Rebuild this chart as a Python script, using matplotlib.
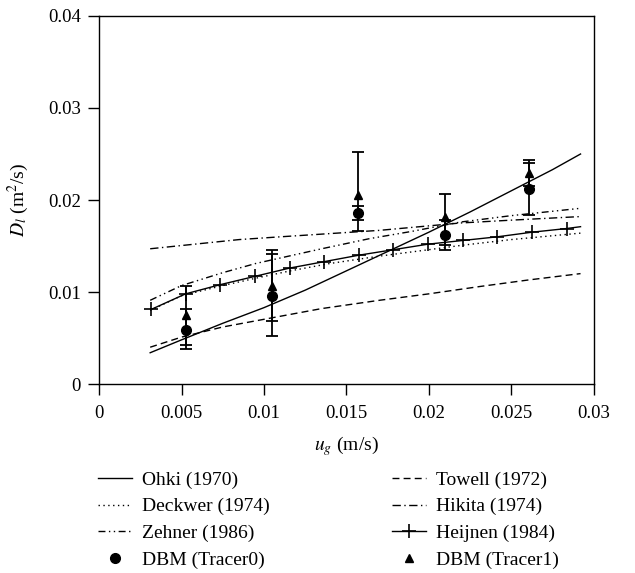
import numpy as np
import matplotlib
matplotlib.use("Agg")
import matplotlib.pyplot as plt

plt.rcParams['font.family'] = ['Liberation Serif', 'DejaVu Serif']
plt.rcParams['mathtext.fontset'] = 'stix'

# correlazioni dalla letteratura (velocita' del gas ug, dispersione Dl)
ug_ohki = [0.0031, 0.005, 0.0075, 0.01, 0.0125, 0.015, 0.0175, 0.02, 0.0225, 0.025, 0.0275, 0.0292]
dl_ohki = [0.0034, 0.0048, 0.0066, 0.0083, 0.0102, 0.0123, 0.0144, 0.0165, 0.0187, 0.0210, 0.0233, 0.0250]

ug_towell = [0.0031, 0.005, 0.0075, 0.0105, 0.0135, 0.017, 0.02, 0.0231, 0.026, 0.0292]
dl_towell = [0.0040, 0.0051, 0.0062, 0.0072, 0.0082, 0.0091, 0.0098, 0.0106, 0.0113, 0.0120]

ug_deckwer = [0.0031, 0.005, 0.0075, 0.0095, 0.0116, 0.014, 0.017, 0.02, 0.0221, 0.025, 0.0292]
dl_deckwer = [0.0080, 0.0096, 0.0107, 0.0115, 0.0123, 0.0131, 0.0139, 0.0146, 0.0151, 0.0157, 0.0164]

ug_hikita = [0.0031, 0.0085, 0.011, 0.017, 0.0219, 0.0249, 0.0292]
dl_hikita = [0.0147, 0.0157, 0.0160, 0.0167, 0.0175, 0.0178, 0.0182]

ug_zehner = [0.0031, 0.005, 0.0075, 0.0095, 0.011, 0.0135, 0.0164, 0.019, 0.0219, 0.025, 0.0292]
dl_zehner = [0.0091, 0.0107, 0.0121, 0.0131, 0.0137, 0.0147, 0.0158, 0.0166, 0.0176, 0.0183, 0.0191]

ug_heijnen = [0.00315, 0.00525, 0.00735, 0.00945, 0.01155, 0.01365, 0.01575, 0.01785,
              0.01995, 0.02205, 0.02415, 0.02625, 0.02835, 0.0292]
dl_heijnen = [0.0081, 0.0098, 0.0108, 0.0117, 0.0126, 0.0133, 0.0140, 0.0146,
              0.0152, 0.0156, 0.0160, 0.0165, 0.0169, 0.0171]

# risultati DBM con i due traccianti
ug_dbm = [0.00525, 0.0105, 0.0157, 0.0210, 0.0261]
dl_tracer0 = [0.0059, 0.0096, 0.0186, 0.0162, 0.0212]
min_tracer0 = [0.0038, 0.0052, 0.0178, 0.0146, 0.0184]
max_tracer0 = [0.0081, 0.0141, 0.0194, 0.0178, 0.0240]
dl_tracer1 = [0.0075, 0.0106, 0.0205, 0.0181, 0.0229]
min_tracer1 = [0.0042, 0.0068, 0.0166, 0.0151, 0.0215]
max_tracer1 = [0.0107, 0.0146, 0.0252, 0.0207, 0.0244]

xticks = [0, 0.005, 0.01, 0.015, 0.02, 0.025, 0.03]
xtick_labels = ['0', '0.005', '0.01', '0.015', '0.02', '0.025', '0.03']
yticks = [0, 0.01, 0.02, 0.03, 0.04]
ytick_labels = ['0', '0.01', '0.02', '0.03', '0.04']


def barre_errore(val, vmin, vmax):
    val = np.array(val)
    return np.vstack([val - np.array(vmin), np.array(vmax) - val])


fig = plt.figure(figsize=(6.35, 5.73), dpi=100)
ax = fig.add_axes([0.156, 0.3298, 0.779, 0.6423])

lw = 1.0
h_ohki, = ax.plot(ug_ohki, dl_ohki, color='black', lw=lw, label='Ohki (1970)')
h_towell, = ax.plot(ug_towell, dl_towell, color='black', lw=lw, linestyle=(0, (5, 3)), label='Towell (1972)')
h_deckwer, = ax.plot(ug_deckwer, dl_deckwer, color='black', lw=lw, linestyle=(0, (1, 2.5)), label='Deckwer (1974)')
h_hikita, = ax.plot(ug_hikita, dl_hikita, color='black', lw=lw, linestyle=(0, (6, 2.5, 1, 2.5)), label='Hikita (1974)')
h_zehner, = ax.plot(ug_zehner, dl_zehner, color='black', lw=lw, linestyle=(0, (5, 2.5, 1, 2.5, 1, 2.5)), label='Zehner (1986)')
h_heijnen, = ax.plot(ug_heijnen, dl_heijnen, color='black', lw=lw, marker='+', markersize=10,
                     markeredgewidth=1.2, markevery=list(range(13)), label='Heijnen (1984)')

ax.errorbar(ug_dbm, dl_tracer1, yerr=barre_errore(dl_tracer1, min_tracer1, max_tracer1),
            fmt='none', ecolor='black', elinewidth=1.3, capsize=4, capthick=1.3)
ax.errorbar(ug_dbm, dl_tracer0, yerr=barre_errore(dl_tracer0, min_tracer0, max_tracer0),
            fmt='none', ecolor='black', elinewidth=1.3, capsize=4, capthick=1.3)
h_t0, = ax.plot(ug_dbm, dl_tracer0, 'o', color='black', markersize=7, linestyle='none', label='DBM (Tracer0)')
h_t1, = ax.plot(ug_dbm, dl_tracer1, '^', color='black', markersize=6, linestyle='none', label='DBM (Tracer1)')

ax.set_xlim(0, 0.03)
ax.set_ylim(0, 0.04)
ax.set_xticks(xticks)
ax.set_xticklabels(xtick_labels)
ax.set_yticks(yticks)
ax.set_yticklabels(ytick_labels)
ax.tick_params(direction='out', length=8, width=1, pad=5, labelsize=13.5, colors='black')
ax.tick_params(axis='x', pad=7)
for s in ax.spines.values():
    s.set_linewidth(1.0)

ax.set_xlabel(r'$u_g$ (m/s)', fontsize=14, labelpad=9)
ax.set_ylabel(r'$D_l$ (m$^2$/s)', fontsize=14, labelpad=12)

# legenda su due colonne sotto il grafico
handles = [h_ohki, h_deckwer, h_zehner, h_t0, h_towell, h_hikita, h_heijnen, h_t1]
fig.legend(handles=handles, labels=[h.get_label() for h in handles], ncol=2,
           loc='upper left', bbox_to_anchor=(0.154, 0.178), frameon=False,
           fontsize=14, handlelength=1.75, handletextpad=0.5, columnspacing=6.3,
           labelspacing=0.47, borderpad=0, borderaxespad=0)

fig.savefig('out.png', dpi=100)
